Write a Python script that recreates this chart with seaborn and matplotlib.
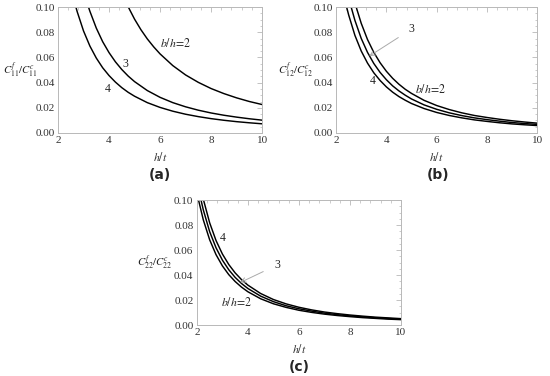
import matplotlib
matplotlib.use("Agg")
import matplotlib.pyplot as plt
import seaborn as sns
from matplotlib.ticker import MultipleLocator

# ---- data ----------------------------------------------------------------
# panel (a): C^f_11 / C^c_11
a_x2 = [4.75, 5.0, 5.25, 5.5, 5.75, 6.0, 6.5, 7.0, 7.5, 8.0, 8.5, 9.0, 9.5, 10.0]
a_y2 = [0.1002, 0.0904, 0.0820, 0.0747, 0.0684, 0.0628, 0.0535, 0.0461, 0.0402,
        0.0353, 0.0313, 0.0279, 0.0250, 0.0226]
a_x3 = [3.2, 3.25, 3.5, 3.75, 4.0, 4.25, 4.5, 4.75, 5.0, 5.5, 6.0, 6.5, 7.0, 7.5,
        8.0, 8.5, 9.0, 9.5, 10.0]
a_y3 = [0.0996, 0.0966, 0.0833, 0.0725, 0.0638, 0.0565, 0.0504, 0.0452, 0.0408,
        0.0337, 0.0283, 0.0241, 0.0208, 0.0181, 0.0159, 0.0141, 0.0126, 0.0113, 0.0102]
a_x4 = [2.7, 2.75, 3.0, 3.25, 3.5, 3.75, 4.0, 4.25, 4.5, 4.75, 5.0, 5.5, 6.0, 6.5,
        7.0, 7.5, 8.0, 8.5, 9.0, 9.5, 10.0]
a_y4 = [0.1000, 0.0964, 0.0810, 0.0690, 0.0595, 0.0518, 0.0456, 0.0404, 0.0360,
        0.0323, 0.0292, 0.0241, 0.0203, 0.0173, 0.0149, 0.0130, 0.0114, 0.0101,
        0.0090, 0.0081, 0.0073]

# panel (b): C^f_12 / C^c_12
b_x2 = [2.8, 3.0, 3.25, 3.5, 3.75, 4.0, 4.25, 4.5, 4.75, 5.0, 5.5, 6.0, 6.5, 7.0,
        7.5, 8.0, 8.5, 9.0, 9.5, 10.0]
b_y2 = [0.1000, 0.0871, 0.0742, 0.0640, 0.0558, 0.0490, 0.0434, 0.0387, 0.0347,
        0.0314, 0.0259, 0.0218, 0.0186, 0.0160, 0.0139, 0.0123, 0.0109, 0.0097,
        0.0087, 0.0078]
b_x3 = [2.6, 2.75, 3.0, 3.25, 3.5, 3.75, 4.0, 4.25, 4.5, 4.75, 5.0, 5.5, 6.0, 6.5,
        7.0, 7.5, 8.0, 8.5, 9.0, 9.5, 10.0]
b_y3 = [0.1000, 0.0894, 0.0751, 0.0640, 0.0552, 0.0481, 0.0423, 0.0374, 0.0334,
        0.0300, 0.0270, 0.0223, 0.0188, 0.0160, 0.0138, 0.0120, 0.0106, 0.0094,
        0.0083, 0.0075, 0.0068]
b_x4 = [2.42, 2.5, 2.75, 3.0, 3.25, 3.5, 3.75, 4.0, 4.25, 4.5, 4.75, 5.0, 5.5, 6.0,
        6.5, 7.0, 7.5, 8.0, 8.5, 9.0, 9.5, 10.0]
b_y4 = [0.1000, 0.0938, 0.0775, 0.0651, 0.0555, 0.0478, 0.0417, 0.0366, 0.0324,
        0.0289, 0.0260, 0.0234, 0.0194, 0.0163, 0.0139, 0.0120, 0.0104, 0.0092,
        0.0081, 0.0072, 0.0065, 0.0059]

# panel (c): C^f_22 / C^c_22
c_x2 = [2.065, 2.25, 2.5, 2.75, 3.0, 3.25, 3.5, 3.75, 4.0, 4.5, 5.0, 5.5, 6.0, 6.5,
        7.0, 7.5, 8.0, 8.5, 9.0, 9.5, 10.0]
c_y2 = [0.0999, 0.0842, 0.0682, 0.0563, 0.0473, 0.0403, 0.0348, 0.0303, 0.0266,
        0.0210, 0.0170, 0.0141, 0.0118, 0.0101, 0.0087, 0.0076, 0.0067, 0.0059,
        0.0053, 0.0047, 0.0043]
c_x3 = [2.16, 2.25, 2.5, 2.75, 3.0, 3.25, 3.5, 3.75, 4.0, 4.5, 5.0, 5.5, 6.0, 6.5,
        7.0, 7.5, 8.0, 8.5, 9.0, 9.5, 10.0]
c_y3 = [0.1001, 0.0922, 0.0747, 0.0618, 0.0519, 0.0442, 0.0381, 0.0332, 0.0292,
        0.0231, 0.0187, 0.0154, 0.0130, 0.0111, 0.0095, 0.0083, 0.0073, 0.0065,
        0.0058, 0.0052, 0.0047]
c_x4 = [2.26, 2.5, 2.75, 3.0, 3.25, 3.5, 3.75, 4.0, 4.5, 5.0, 5.5, 6.0, 6.5, 7.0,
        7.5, 8.0, 8.5, 9.0, 9.5, 10.0]
c_y4 = [0.1000, 0.0818, 0.0676, 0.0568, 0.0484, 0.0417, 0.0363, 0.0319, 0.0252,
        0.0204, 0.0169, 0.0142, 0.0121, 0.0104, 0.0091, 0.0080, 0.0071, 0.0063,
        0.0057, 0.0051]

x_ticks = [2, 4, 6, 8, 10]
y_ticks = [0.00, 0.02, 0.04, 0.06, 0.08, 0.10]

# ---- style ---------------------------------------------------------------
sns.set_style("white")
plt.rcParams['font.family'] = ['Liberation Serif', 'DejaVu Serif']
plt.rcParams['mathtext.fontset'] = 'stix'
plt.rcParams['font.size'] = 7

fig = plt.figure(figsize=(5.5, 3.76), dpi=100)
ax_a = fig.add_axes([0.1055, 0.6463, 0.371, 0.335])
ax_b = fig.add_axes([0.611, 0.6463, 0.366, 0.335])
ax_c = fig.add_axes([0.358, 0.1356, 0.371, 0.3324])

frame_col = '#b8b8b8'


def style_axes(ax, ylab, ylab_x):
    ax.set_xlim(2, 10)
    ax.set_ylim(0, 0.10)
    ax.set_xticks(x_ticks)
    ax.set_yticks(y_ticks)
    ax.set_yticklabels(['%.2f' % v for v in y_ticks])
    ax.xaxis.set_minor_locator(MultipleLocator(0.4))
    ax.yaxis.set_minor_locator(MultipleLocator(0.005))
    ax.tick_params(which='both', direction='in', top=True, right=True,
                   color=frame_col, labelcolor='#333333', labelsize=8, pad=2.5)
    ax.tick_params(which='major', length=3.5, width=0.6)
    ax.tick_params(which='minor', length=1.8, width=0.5)
    ax.tick_params(axis='both', which='both', labeltop=False, labelright=False)
    for s in ax.spines.values():
        s.set_color(frame_col)
        s.set_linewidth(0.7)
    ax.set_xlabel('$h/t$', fontsize=8.5, color='#333333', labelpad=4)
    ax.set_ylabel('')
    ax.text(ylab_x, 0.5, ylab, transform=ax.transAxes, ha='right', va='center',
            fontsize=7.8, color='#222222')


def draw(ax, curves):
    for xs, ys in curves:
        sns.lineplot(x=xs, y=ys, ax=ax, color='black', linewidth=1.05,
                     estimator=None, sort=False)


# (a)
draw(ax_a, [(a_x2, a_y2), (a_x3, a_y3), (a_x4, a_y4)])
style_axes(ax_a, '$C^{f}_{11}/C^{c}_{11}$', -0.1)
ax_a.text(6.0, 0.0713, '$b/h\\!=\\!2$', fontsize=8.5, va='center', ha='left')
ax_a.text(4.65, 0.055, '3', fontsize=8.5, va='center', ha='center')
ax_a.text(3.95, 0.0346, '4', fontsize=8.5, va='center', ha='center')

# (b)
draw(ax_b, [(b_x2, b_y2), (b_x3, b_y3), (b_x4, b_y4)])
style_axes(ax_b, '$C^{f}_{12}/C^{c}_{12}$', -0.115)
ax_b.text(5.15, 0.0346, '$b/h\\!=\\!2$', fontsize=8.5, va='center', ha='left')
ax_b.text(3.45, 0.041, '4', fontsize=8.5, va='center', ha='center')
ax_b.annotate('3', xy=(3.32, 0.061), xytext=(5.0, 0.0825), fontsize=8.5,
              va='center', ha='center',
              arrowprops=dict(arrowstyle='->', color='#aaaaaa', lw=0.7,
                              shrinkA=6, shrinkB=0))

# (c)
draw(ax_c, [(c_x2, c_y2), (c_x3, c_y3), (c_x4, c_y4)])
style_axes(ax_c, '$C^{f}_{22}/C^{c}_{22}$', -0.12)
ax_c.text(3.0, 0.0693, '4', fontsize=8.5, va='center', ha='center')
ax_c.text(3.54, 0.0181, '$b/h\\!=\\!2$', fontsize=8.5, va='center', ha='center')
ax_c.annotate('3', xy=(3.70, 0.0340), xytext=(5.14, 0.048), fontsize=8.5,
              va='center', ha='center',
              arrowprops=dict(arrowstyle='->', color='#aaaaaa', lw=0.7,
                              shrinkA=6, shrinkB=0))

# captions
fig.text(160 / 550, 1 - 175 / 376, '(a)', ha='center', va='center',
         fontsize=10, fontweight='bold', family=['DejaVu Sans'])
fig.text(438 / 550, 1 - 175 / 376, '(b)', ha='center', va='center',
         fontsize=10, fontweight='bold', family=['DejaVu Sans'])
fig.text(299 / 550, 1 - 367 / 376, '(c)', ha='center', va='center',
         fontsize=10, fontweight='bold', family=['DejaVu Sans'])

fig.savefig('out.png', dpi=100)
